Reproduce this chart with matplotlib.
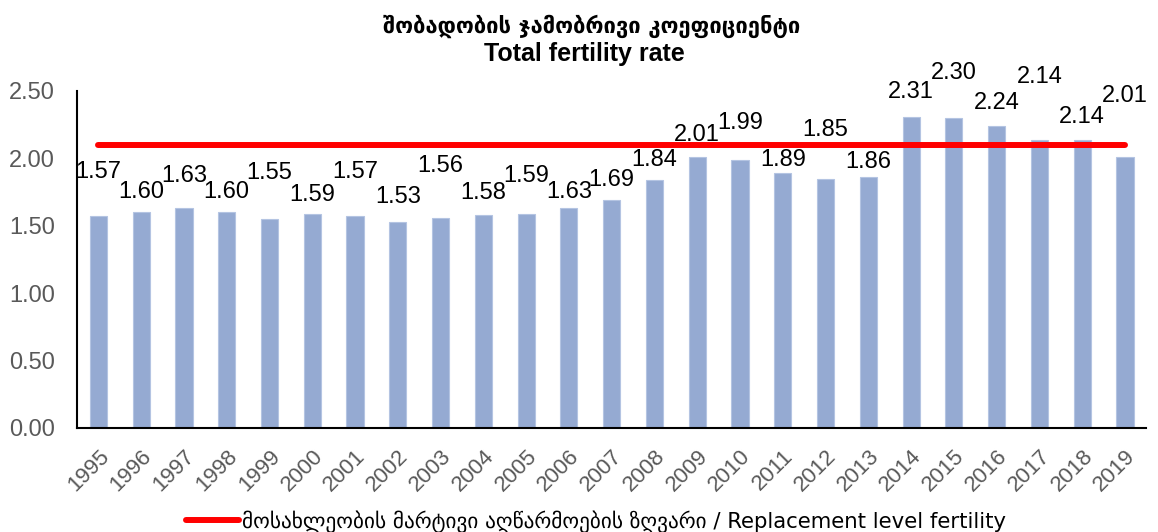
import matplotlib.pyplot as plt
import numpy as np

# data
years = [str(y) for y in range(1995, 2020)]
tfr = [1.57, 1.60, 1.63, 1.60, 1.55, 1.59, 1.57, 1.53, 1.56, 1.58, 1.59, 1.63, 1.69,
       1.84, 2.01, 1.99, 1.89, 1.85, 1.86, 2.31, 2.30, 2.24, 2.14, 2.14, 2.01]
replacement_level = 2.1

# where Excel put each data label (data units), staggered as in the original
label_y = [1.90, 1.75, 1.87, 1.75, 1.89, 1.73, 1.90, 1.71, 1.94, 1.74, 1.87, 1.75, 1.84,
           1.99, 2.17, 2.26, 1.99, 2.21, 1.97, 2.49, 2.63, 2.41, 2.60, 2.31, 2.46]

title_ka = "შობადობის ჯამობრივი კოეფიციენტი"
title_en = "Total fertility rate"
legend_label = "მოსახლეობის მარტივი აღწარმოების ზღვარი / Replacement level fertility"

plt.rcParams['font.family'] = ['Liberation Sans', 'DejaVu Sans']

fig = plt.figure(figsize=(11.58, 5.32), dpi=100)
ax = fig.add_axes([0.0665, 0.1955, 0.9235, 0.6335])

x = np.arange(len(years))
ax.bar(x, tfr, width=0.4, color='#95aad2', edgecolor='#b4c4e2', linewidth=0.8, zorder=2)
line, = ax.plot([x[0], x[-1]], [replacement_level] * 2, color='#ff0000', linewidth=4.3,
                solid_capstyle='round', zorder=3)

for xi, v, ly in zip(x, tfr, label_y):
    ax.text(xi, ly, f"{v:.2f}", ha='center', va='center', fontsize=17, color='black',
            clip_on=False, zorder=4)

ax.set_xlim(-0.5, len(years) - 0.5)
ax.set_ylim(0, 2.5)
ax.set_yticks(np.arange(0, 2.51, 0.5))
ax.set_yticklabels([f"{t:.2f}" for t in np.arange(0, 2.51, 0.5)], fontsize=17, color='#595959')
ax.set_xticks(x)
ax.set_xticklabels(years, rotation=45, ha='right', rotation_mode='anchor', fontsize=16,
                   color='#595959')
ax.tick_params(axis='both', length=0)
ax.tick_params(axis='y', pad=16)
ax.tick_params(axis='x', pad=13)

for s in ['top', 'right']:
    ax.spines[s].set_visible(False)
ax.spines['left'].set_linewidth(1.5)
ax.spines['bottom'].set_linewidth(1.5)

fig.text(0.511, 0.95, title_ka, ha='center', va='center', fontsize=15.8, fontweight='bold',
         family=['DejaVu Sans'])
fig.text(0.505, 0.898, title_en, ha='center', va='center', fontsize=18, fontweight='bold')

fig.legend([line], [legend_label], loc='center', bbox_to_anchor=(0.515, 0.02), frameon=False,
           prop={'family': ['DejaVu Sans'], 'size': 15.3},
           handlelength=2.5, handletextpad=0.15)

fig.savefig('out.png', dpi=100)
